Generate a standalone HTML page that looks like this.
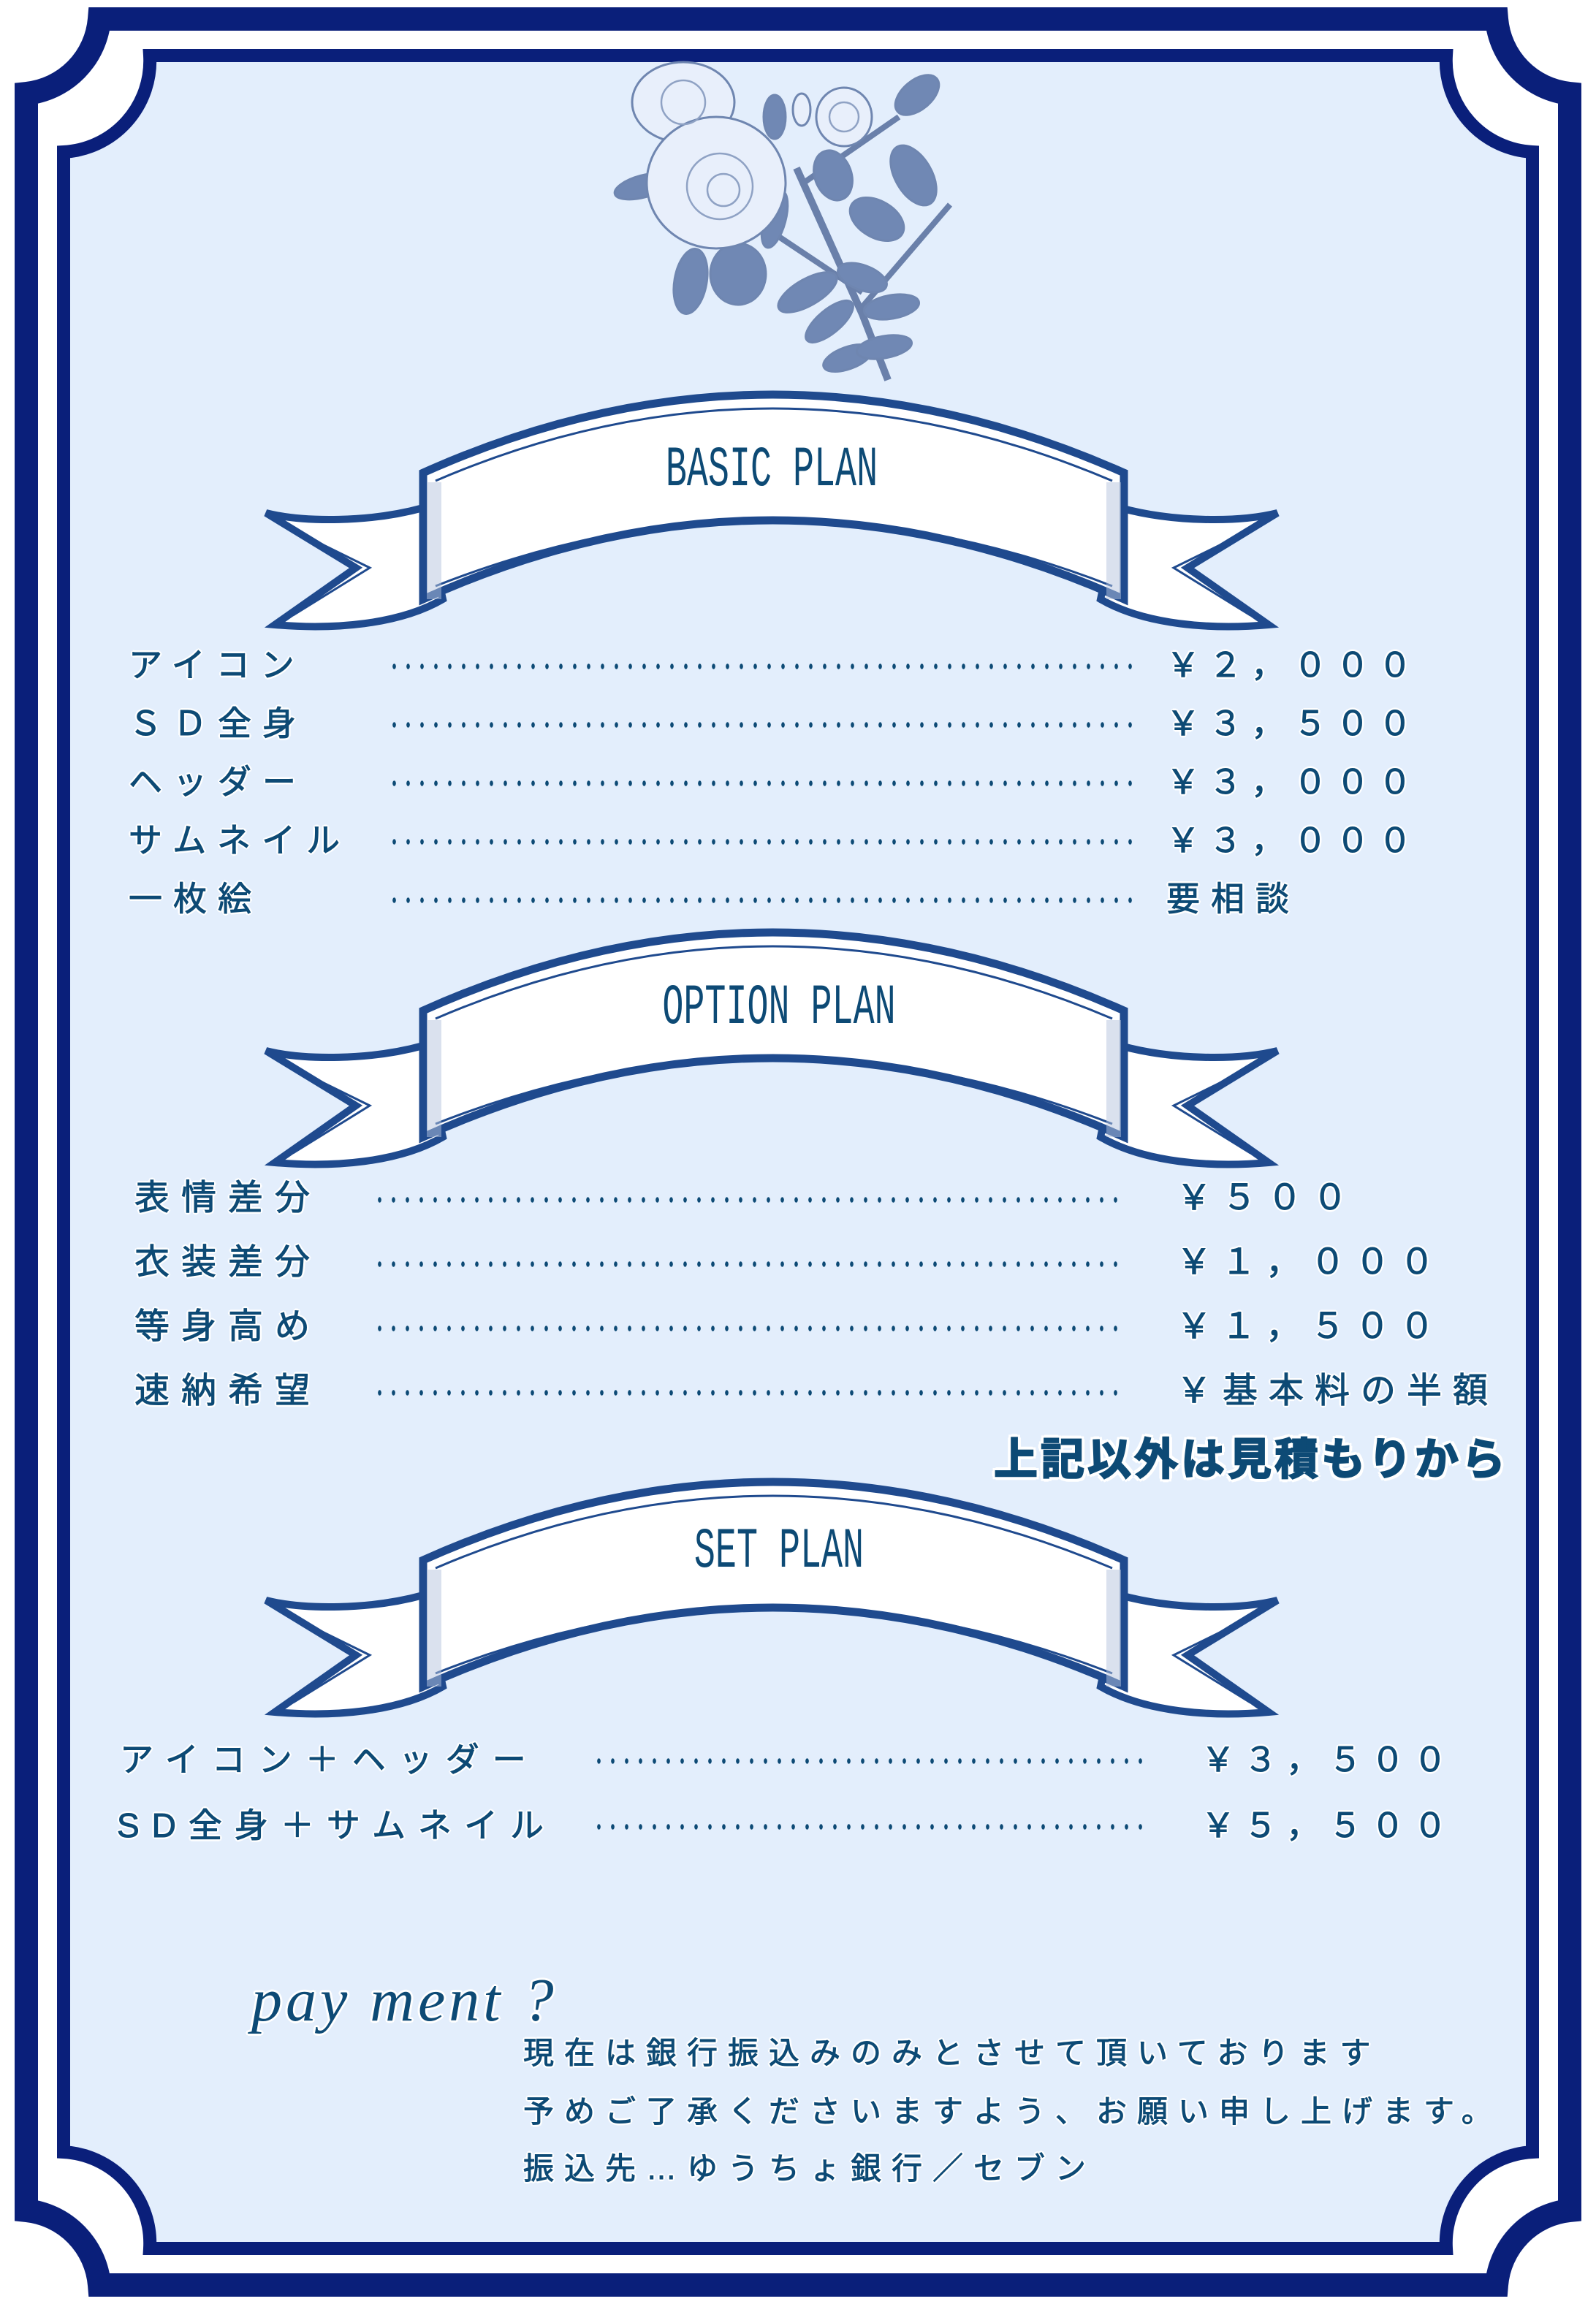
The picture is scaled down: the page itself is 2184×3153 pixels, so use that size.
<!DOCTYPE html>
<html><head><meta charset="utf-8">
<style>
html,body{margin:0;padding:0;background:#fff;}
#c{position:relative;width:2184px;height:3153px;overflow:hidden;background:#fff;}
svg{position:absolute;left:0;top:0;}
.t{position:absolute;white-space:nowrap;font-family:"Liberation Sans","Noto Sans CJK JP",sans-serif;color:#0d4a75;-webkit-text-stroke:1px #0d4a75;
text-shadow:0 0 3px #fff,2px 2px 0 #fff,-2px -2px 0 #fff,2px -2px 0 #fff,-2px 2px 0 #fff,0 3px 0 #fff,0 -3px 0 #fff,3px 0 0 #fff,-3px 0 0 #fff;}
.r{font-size:46px;line-height:46px;letter-spacing:15px;}
.o{font-size:48px;line-height:48px;letter-spacing:16px;}
.d{position:absolute;height:14px;background-image:radial-gradient(ellipse 2.5px 4px at 50% 50%,#0d4a75 85%,transparent 100%);background-size:19px 14px;background-repeat:repeat-x;}
.bt{position:absolute;font-family:"Liberation Mono",monospace;color:#0d4a75;font-size:78px;line-height:78px;transform:scaleX(0.62);transform-origin:center;text-align:center;width:1000px;white-space:nowrap;}
</style></head><body><div id="c">
<svg width="2184" height="3153" viewBox="0 0 2184 3153">
<defs>
<g id="ban">
 <path d="M223,175 C150,195 60,195 8,182 L131,257 L20,335 C100,342 190,335 250,300 Z" fill="#fff" stroke="#1f4a8e" stroke-width="10"/>
 <path d="M30,198 L150,257 L45,322" fill="none" stroke="#1f4a8e" stroke-width="3"/>
 <path d="M1177,175 C1250,195 1340,195 1392,182 L1269,257 L1380,335 C1300,342 1210,335 1150,300 Z" fill="#fff" stroke="#1f4a8e" stroke-width="10"/>
 <path d="M1370,198 L1250,257 L1355,322" fill="none" stroke="#1f4a8e" stroke-width="3"/>
 <path d="M223,127 Q700,-87 1182,127 L1182,300 Q700,84 223,300 Z" fill="#fff" stroke="#1f4a8e" stroke-width="11"/>
 <path d="M240,138 Q700,-60 1166,138" fill="none" stroke="#1f4a8e" stroke-width="3"/>
 <path d="M240,282 Q700,100 1166,282" fill="none" stroke="#1f4a8e" stroke-width="3"/>
 <rect x="228" y="140" width="20" height="160" fill="#b5c3dd" opacity="0.5"/>
 <rect x="1158" y="140" width="20" height="160" fill="#b5c3dd" opacity="0.5"/>
</g>
</defs>
<path d="M136,26 H2048 A112,112 0 0 0 2148,128 V3025 A112,112 0 0 0 2048,3127 H136 A112,112 0 0 0 36,3025 V128 A112,112 0 0 0 136,26 Z" fill="#fff" stroke="#0a1f7a" stroke-width="32"/>
<path d="M205,76 H1979 A125,125 0 0 0 2097,208 V2945 A125,125 0 0 0 1979,3077 H205 A125,125 0 0 0 87,2945 V208 A125,125 0 0 0 205,76 Z" fill="#e3eefc" stroke="#0a1f7a" stroke-width="18"/>
<g stroke="#6f86b0" stroke-width="3">
 <path d="M1090,230 L1180,430 L1215,520" fill="none" stroke="#6a80aa" stroke-width="10"/>
 <path d="M1100,250 L1230,160 M1180,420 L1300,280 M1180,400 L1060,320" fill="none" stroke="#6a80aa" stroke-width="8"/>
 <g fill="#7088b4">
  <ellipse cx="945" cy="385" rx="22" ry="45" transform="rotate(10 945 385)"/>
  <ellipse cx="1010" cy="375" rx="38" ry="42"/>
  <ellipse cx="880" cy="255" rx="40" ry="15" transform="rotate(-15 880 255)"/>
  <ellipse cx="1105" cy="400" rx="45" ry="18" transform="rotate(-30 1105 400)"/>
  <ellipse cx="1135" cy="440" rx="40" ry="16" transform="rotate(-40 1135 440)"/>
  <ellipse cx="1160" cy="490" rx="35" ry="15" transform="rotate(-20 1160 490)"/>
  <ellipse cx="1210" cy="475" rx="38" ry="15" transform="rotate(-10 1210 475)"/>
  <ellipse cx="1220" cy="420" rx="38" ry="16" transform="rotate(-10 1220 420)"/>
  <ellipse cx="1180" cy="380" rx="35" ry="17" transform="rotate(20 1180 380)"/>
  <ellipse cx="1200" cy="300" rx="40" ry="25" transform="rotate(30 1200 300)"/>
  <ellipse cx="1250" cy="240" rx="45" ry="25" transform="rotate(60 1250 240)"/>
  <ellipse cx="1255" cy="130" rx="35" ry="20" transform="rotate(-40 1255 130)"/>
  <ellipse cx="1140" cy="240" rx="25" ry="35" transform="rotate(-20 1140 240)"/>
  <ellipse cx="1060" cy="300" rx="15" ry="40" transform="rotate(15 1060 300)"/>
  <ellipse cx="1060" cy="160" rx="15" ry="30"/>
 </g>
 <g fill="#e8effb">
  <ellipse cx="935" cy="140" rx="70" ry="55"/>
  <ellipse cx="980" cy="250" rx="95" ry="90"/>
  <ellipse cx="1155" cy="160" rx="38" ry="40"/>
  <ellipse cx="1097" cy="150" rx="12" ry="22"/>
 </g>
 <g fill="none" stroke="#8fa2c4" stroke-width="2.5">
  <circle cx="985" cy="255" r="45"/><circle cx="990" cy="260" r="22"/>
  <circle cx="935" cy="140" r="30"/><circle cx="1155" cy="160" r="20"/>
 </g>
</g>
<use href="#ban" x="356" y="520"/>
<use href="#ban" x="356" y="1256"/>
<use href="#ban" x="356" y="2008"/>
</svg>

<div class="bt" style="left:556px;top:605px;">BASIC PLAN</div>
<div class="bt" style="left:566px;top:1341px;">OPTION PLAN</div>
<div class="bt" style="left:566px;top:2085px;">SET PLAN</div>

<div class="t r" style="left:176px;top:887px;">アイコン</div>
<div class="t r" style="left:176px;top:967px;">ＳＤ全身</div>
<div class="t r" style="left:176px;top:1047px;">ヘッダー</div>
<div class="t r" style="left:176px;top:1127px;">サムネイル</div>
<div class="t r" style="left:176px;top:1207px;">一枚絵</div>
<div class="d" style="left:530px;width:1026px;top:905px;"></div>
<div class="d" style="left:530px;width:1026px;top:985px;"></div>
<div class="d" style="left:530px;width:1026px;top:1065px;"></div>
<div class="d" style="left:530px;width:1026px;top:1145px;"></div>
<div class="d" style="left:530px;width:1026px;top:1225px;"></div>
<div class="t r" style="left:1596px;top:887px;letter-spacing:12px;">￥２，０００</div>
<div class="t r" style="left:1596px;top:967px;letter-spacing:12px;">￥３，５００</div>
<div class="t r" style="left:1596px;top:1047px;letter-spacing:12px;">￥３，０００</div>
<div class="t r" style="left:1596px;top:1127px;letter-spacing:12px;">￥３，０００</div>
<div class="t r" style="left:1596px;top:1207px;letter-spacing:15px;">要相談</div>

<div class="t o" style="left:184px;top:1616px;">表情差分</div>
<div class="t o" style="left:184px;top:1704px;">衣装差分</div>
<div class="t o" style="left:184px;top:1792px;">等身高め</div>
<div class="t o" style="left:184px;top:1880px;">速納希望</div>
<div class="d" style="left:510px;width:1026px;top:1635px;"></div>
<div class="d" style="left:510px;width:1026px;top:1723px;"></div>
<div class="d" style="left:510px;width:1026px;top:1811px;"></div>
<div class="d" style="left:510px;width:1026px;top:1899px;"></div>
<div class="t o" style="left:1610px;top:1616px;letter-spacing:14px;">￥５００</div>
<div class="t o" style="left:1610px;top:1704px;letter-spacing:13px;">￥１，０００</div>
<div class="t o" style="left:1610px;top:1792px;letter-spacing:13px;">￥１，５００</div>
<div class="t o" style="left:1610px;top:1880px;letter-spacing:15px;">￥基本料の半額</div>
<div class="t" style="left:1360px;top:1968px;font-size:60px;line-height:60px;font-weight:bold;letter-spacing:4px;color:#0d4a75;-webkit-text-stroke:2px #0d4a75;text-shadow:0 0 4px #fff,4px 4px 0 #fff,-4px -4px 0 #fff,4px -4px 0 #fff,-4px 4px 0 #fff,0 5px 0 #fff,0 -5px 0 #fff,5px 0 0 #fff,-5px 0 0 #fff;">上記以外は見積もりから</div>

<div class="t r" style="left:164px;top:2385px;letter-spacing:18px;">アイコン＋ヘッダー</div>
<div class="t r" style="left:160px;top:2475px;letter-spacing:17px;">SD全身＋サムネイル</div>
<div class="d" style="left:810px;width:766px;top:2403px;"></div>
<div class="d" style="left:810px;width:766px;top:2493px;"></div>
<div class="t r" style="left:1644px;top:2385px;letter-spacing:12px;">￥３，５００</div>
<div class="t r" style="left:1644px;top:2475px;letter-spacing:12px;">￥５，５００</div>

<div class="t" style="left:344px;top:2694px;font-family:'Liberation Serif',serif;font-style:italic;font-size:84px;line-height:88px;letter-spacing:5px;-webkit-text-stroke:0;">pay ment ?</div>
<div class="t" style="left:716px;top:2788px;font-size:42px;line-height:44px;letter-spacing:14px;">現在は銀行振込みのみとさせて頂いております</div>
<div class="t" style="left:716px;top:2868px;font-size:42px;line-height:44px;letter-spacing:14px;">予めご了承くださいますよう、お願い申し上げます。</div>
<div class="t" style="left:716px;top:2946px;font-size:42px;line-height:44px;letter-spacing:14px;">振込先…ゆうちょ銀行／セブン</div>
</div></body></html>
